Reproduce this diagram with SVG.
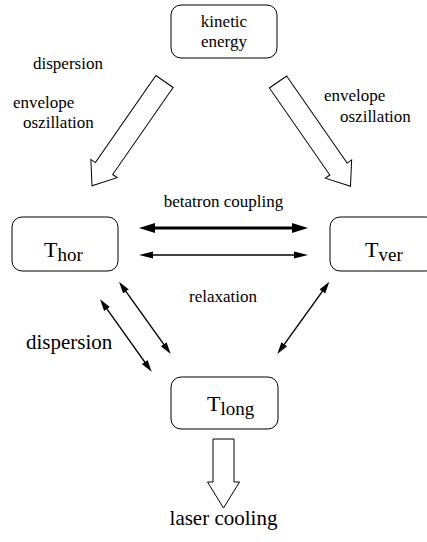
<svg xmlns="http://www.w3.org/2000/svg" width="427" height="542" viewBox="0 0 427 542">
<style>
.box{fill:#fff;stroke:#000;stroke-width:1}
text{font-family:'Liberation Serif','DejaVu Serif',serif;fill:#000}
.lbl{font-size:17px}
.big{font-size:21px}
.hollow{fill:#fff;stroke:#000;stroke-width:1;stroke-linejoin:miter}
.thick{stroke:#000;stroke-width:3.2;fill:none}
.thin{stroke:#000;stroke-width:1.4;fill:none}
</style>
<defs>
<marker id="hThick" markerUnits="userSpaceOnUse" viewBox="0 -6 16 12" refX="8" refY="0" markerWidth="16" markerHeight="12" orient="auto-start-reverse"><path d="M0,-5 L16,0 L0,5 z" fill="#000"/></marker>
<marker id="hThin" markerUnits="userSpaceOnUse" viewBox="0 -5 14 10" refX="7" refY="0" markerWidth="14" markerHeight="10" orient="auto-start-reverse"><path d="M0,-3.6 L14,0 L0,3.6 z" fill="#000"/></marker>
<marker id="hDiag" markerUnits="userSpaceOnUse" viewBox="0 -5 12 10" refX="6" refY="0" markerWidth="12" markerHeight="10" orient="auto-start-reverse"><path d="M0,-3.5 L12,0 L0,3.5 z" fill="#000"/></marker>
</defs>

<g id="node-kinetic">
<rect class="box" x="171" y="5" width="106" height="53" rx="10"/>
<text class="lbl" font-family="Liberation Serif, serif" x="224" y="27" text-anchor="middle">kinetic</text>
<text class="lbl" font-family="Liberation Serif, serif" x="224" y="47" text-anchor="middle">energy</text>
</g>
<g id="node-thor">
<rect class="box" x="12" y="217" width="106" height="54" rx="10"/>
<text font-family="Liberation Serif, serif" x="44" y="257" font-size="22">T<tspan font-size="19" dy="4">hor</tspan></text>
</g>
<g id="node-tver">
<rect class="box" x="330" y="217" width="106" height="54" rx="10"/>
<text font-family="Liberation Serif, serif" x="365" y="257" font-size="22">T<tspan font-size="19" dy="4">ver</tspan></text>
</g>
<g id="node-tlong">
<rect class="box" x="171" y="377" width="107" height="52" rx="10"/>
<text font-family="Liberation Serif, serif" x="207" y="411" font-size="22">T<tspan font-size="19" dy="4">long</tspan></text>
</g>

<g id="connectors">
<polygon class="hollow" transform="translate(164.5,81.5) rotate(124.8)" points="0,-10.5 106,-10.5 106,-16 127,0 106,16 106,10.5 0,10.5"/>
<polygon class="hollow" transform="translate(278,82) rotate(55.2)" points="0,-10.5 106,-10.5 106,-16 127,0 106,16 106,10.5 0,10.5"/>
<polygon class="hollow" points="213,439 234,439 234,482 239.5,482 223.5,508 207.5,482 213,482"/>
<line class="thick" x1="147" y1="228" x2="300" y2="228" marker-start="url(#hThick)" marker-end="url(#hThick)"/>
<line class="thin" x1="146" y1="255" x2="301" y2="255" marker-start="url(#hThin)" marker-end="url(#hThin)"/>
<line class="thin" x1="103.5" y1="304.2" x2="148.2" y2="366.8" marker-start="url(#hDiag)" marker-end="url(#hDiag)"/>
<line class="thin" x1="122.5" y1="286.6" x2="167.2" y2="349.1" marker-start="url(#hDiag)" marker-end="url(#hDiag)"/>
<line class="thin" x1="325.8" y1="286.6" x2="280.8" y2="349.1" marker-start="url(#hDiag)" marker-end="url(#hDiag)"/>
</g>

<g id="labels" font-family="Liberation Serif, serif">
<text class="lbl" x="33" y="69">dispersion</text>
<text class="lbl" x="13" y="108">envelope</text>
<text class="lbl" x="23" y="128">oszillation</text>
<text class="lbl" x="324" y="101">envelope</text>
<text class="lbl" x="340" y="122">oszillation</text>
<text class="lbl" x="223.5" y="207" text-anchor="middle">betatron coupling</text>
<text class="lbl" x="223" y="302" text-anchor="middle">relaxation</text>
<text class="big" x="26" y="349">dispersion</text>
<text class="big" x="223.5" y="525" text-anchor="middle">laser cooling</text>
</g>
</svg>
